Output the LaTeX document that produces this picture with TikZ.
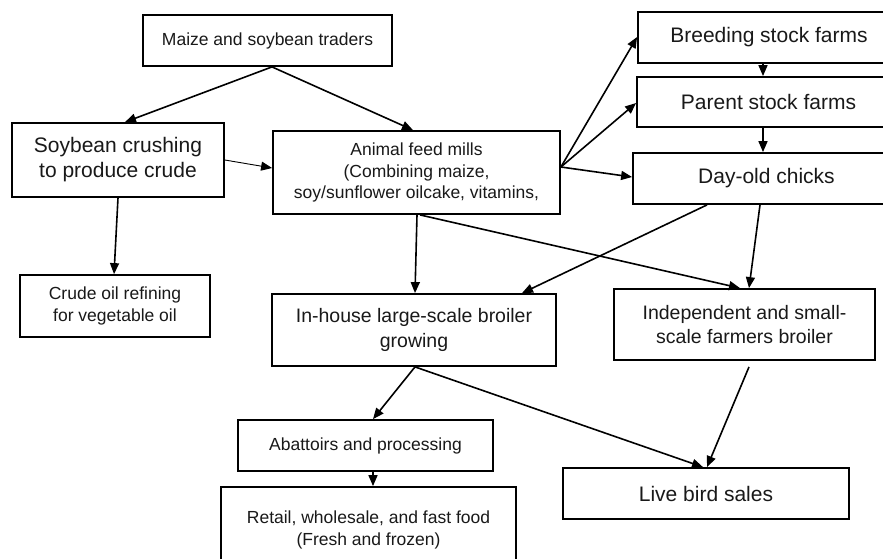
\documentclass[tikz,border=0pt]{standalone}
\usepackage{fontspec}
\setmainfont{Liberation Sans}
\usepackage{tikz}
\usetikzlibrary{arrows.meta}
\usetikzlibrary{positioning}
\tikzset{box/.style = {draw, line width = 1.8pt, align = center, inner sep = 0, text = black!90}}
\tikzset{flow/.style = {-{Triangle[length = 11pt, width = 9pt]}, line width = 1.6pt}}
\tikzset{thinflow/.style = {-{Triangle[length = 11pt, width = 9pt]}, line width = 0.9pt}}
\tikzset{midtext/.style = {font = \fontsize{17.5}{21.5}\selectfont}}
\tikzset{bigtext/.style = {font = \fontsize{21}{25}\selectfont}}
\tikzset{growtext/.style = {font = \fontsize{19.5}{24.5}\selectfont}}

\begin{document}
\begin{tikzpicture}[x = 1pt, y = -1pt]
    \clip (0, 0) rectangle (883, 558);
    \fill [white] (0, 0) rectangle (883, 558);

    \node [box, midtext, minimum width = 249, minimum height = 51] (traders) at (267.5, 40.5) {Maize and soybean traders};
    \node [box, bigtext, minimum width = 212, minimum height = 74] (crush) at (118, 160) {Soybean crushing\\to produce crude};
    \node [box, midtext, minimum width = 287, minimum height = 83] (mills) at (416.5, 172.5) {Animal feed mills\\(Combining maize,\\soy/sunflower oilcake, vitamins,};
    \node [box, bigtext, minimum width = 262, minimum height = 51] (breed) at (769, 37.5) {Breeding stock farms};
    \node [box, bigtext, minimum width = 263, minimum height = 50] (parent) at (768.5, 102) {Parent stock farms};
    \node [box, bigtext, minimum width = 267, minimum height = 51] (chicks) at (766.5, 178.5) {Day-old chicks};
    \node [box, midtext, minimum width = 190, minimum height = 62] (crude) at (115, 306) {Crude oil refining\\for vegetable oil};
    \node [box, growtext, minimum width = 284, minimum height = 72] (inhouse) at (414, 330) {In-house large-scale broiler\\growing};
    \node [box, growtext, minimum width = 261, minimum height = 71] (indep) at (744.5, 324.5) {Independent and small-\\scale farmers broiler};
    \node [box, midtext, minimum width = 255, minimum height = 51] (abatt) at (365.5, 445.5) {Abattoirs and processing};
    \node [box, midtext, minimum width = 295, minimum height = 86] (retail) at (368.5, 530) {Retail, wholesale, and fast food\\(Fresh and frozen)};
    \node [box, bigtext, minimum width = 286, minimum height = 51] (live) at (706, 493.5) {Live bird sales};

    \draw [flow] ([xshift = 4.5]traders.south) -- ([xshift = 7]crush.north);
    \draw [flow] ([xshift = 4.5]traders.south) -- ([xshift = -3.5]mills.north);
    \draw [thinflow] ([yshift = 0]crush.east) -- ([yshift = 4.5]mills.west);
    \draw [flow] (crush.south) -- ([xshift = -1]crude.north);

    \draw [flow] ([yshift = 5.5]mills.east) -- ([yshift = 0.5]breed.west);
    \draw [flow] ([yshift = 5.5]mills.east) -- ([yshift = -1]parent.west);
    \draw [flow] ([yshift = 5.5]mills.east) -- ([yshift = 1.5]chicks.west);
    \draw [flow] ([xshift = -6]breed.south) -- ([xshift = -5.5]parent.north);
    \draw [flow] ([xshift = -5.5]parent.south) -- ([xshift = -3.5]chicks.north);

    \draw [flow] ([xshift = -59.5]chicks.south) -- ([xshift = 108]inhouse.north);
    \draw [flow] ([xshift = -6.5]chicks.south) -- ([xshift = 4.5]indep.north);
    \draw [flow] ([xshift = 0.5]mills.south) -- ([xshift = 1]inhouse.north);
    \draw [flow] ([xshift = 3.5]mills.south) -- ([xshift = -4.5]indep.north);

    \draw [flow] ([xshift = 1]inhouse.south) -- ([xshift = 7.5]abatt.north);
    \draw [flow] ([xshift = 1]inhouse.south) -- ([xshift = -3]live.north);
    \draw [flow] ([xshift = 4.5, yshift = -6]indep.south) -- ([xshift = 1]live.north);
    \draw [flow] ([xshift = 7.5]abatt.south) -- ([xshift = 4.5]retail.north);
\end{tikzpicture}
\end{document}
